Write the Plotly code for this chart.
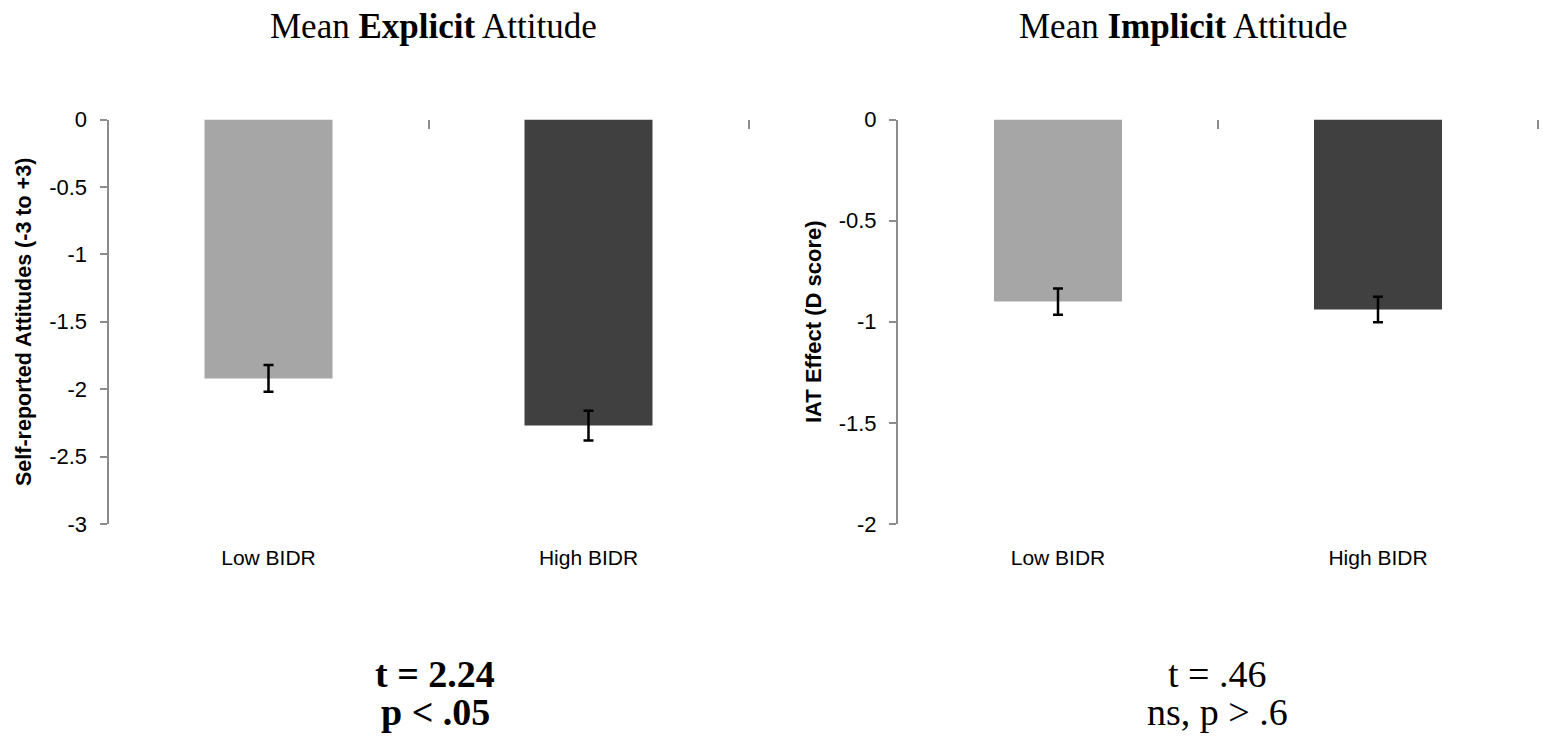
import plotly.graph_objects as go

# ---- data ----
categories = ["Low BIDR", "High BIDR"]
explicit_means = [-1.92, -2.27]
explicit_err = [0.10, 0.11]
implicit_means = [-0.90, -0.94]
implicit_err = [0.065, 0.063]
bar_colors = ["#a6a6a6", "#404040"]
explicit_ticks = [0, -0.5, -1, -1.5, -2, -2.5, -3]
explicit_ticktext = ["0", "-0.5", "-1", "-1.5", "-2", "-2.5", "-3"]
implicit_ticks = [0, -0.5, -1, -1.5, -2]
implicit_ticktext = ["0", "-0.5", "-1", "-1.5", "-2"]
titles = ["Mean <b>Explicit</b> Attitude", "Mean <b>Implicit</b> Attitude"]
y_titles = ["Self-reported Attitudes (-3 to +3)", "IAT Effect (D score)"]
stats_left = ["<b>t = 2.24</b>", "<b>p < .05</b>"]
stats_right = ["t = .46", "ns, p > .6"]

W, H = 1543, 745
xpos = list(range(len(categories)))
boundaries = [i - 0.5 for i in range(len(categories) + 1)]
xrange_ = [-0.5, len(categories) - 0.5]

SANS = "Liberation Sans, Arial, sans-serif"
SERIF = "Liberation Serif, Times New Roman, serif"
AXGRAY = "#8c8c8c"

PLOT_W = 640.0          # pixel width of each panel
EXT = 4.0               # extra px on top-tick axes so the last boundary tick is not at the edge
ext_units = EXT * (xrange_[1] - xrange_[0]) / PLOT_W

fig = go.Figure()

for means, errs, xa, ya in [(explicit_means, explicit_err, "x", "y"),
                            (implicit_means, implicit_err, "x2", "y2")]:
    fig.add_trace(go.Bar(
        x=xpos, y=means, xaxis=xa, yaxis=ya, width=0.4,
        marker=dict(color=bar_colors, line=dict(width=0)),
        error_y=dict(type="data", array=errs, visible=True, color="black",
                     thickness=2.5, width=5),
        showlegend=False, hoverinfo="skip"))

# invisible traces to create the top tick axes' subplots
fig.add_trace(go.Scatter(x=[0], y=[0], xaxis="x3", yaxis="y", mode="markers",
                         marker=dict(opacity=0), showlegend=False, hoverinfo="skip"))
fig.add_trace(go.Scatter(x=[0], y=[0], xaxis="x4", yaxis="y2", mode="markers",
                         marker=dict(opacity=0), showlegend=False, hoverinfo="skip"))

ydom = [(745 - 524) / H, (745 - 119.5) / H]
x1_left, x1_right = 108.5, 108.5 + PLOT_W
x2_left, x2_right = 898.0, 898.0 + PLOT_W
xdom1 = [x1_left / W, x1_right / W]
xdom2 = [x2_left / W, x2_right / W]

def cat_axis(domain, anchor):
    return dict(domain=domain, anchor=anchor, range=xrange_,
                tickvals=xpos, ticktext=categories, showline=False, showgrid=False,
                zeroline=False, ticks="", ticklabelstandoff=19,
                tickfont=dict(family=SANS, size=21, color="black"), automargin=False,
                fixedrange=True)

def top_axis(domain, anchor):
    return dict(domain=[domain[0], domain[1] + EXT / W], anchor=anchor, side="top",
                range=[xrange_[0], xrange_[1] + ext_units], tickvals=boundaries,
                ticks="inside", ticklen=9, tickwidth=2, tickcolor=AXGRAY,
                showticklabels=False, showline=False, showgrid=False, zeroline=False,
                automargin=False)

def val_axis(domain, anchor, rng, tv, tt):
    return dict(domain=domain, anchor=anchor, range=rng, tickvals=tv, ticktext=tt,
                showline=True, linecolor=AXGRAY, linewidth=2, ticks="outside",
                ticklen=7, tickwidth=2, tickcolor=AXGRAY, showgrid=False,
                zeroline=False, ticklabelstandoff=8,
                tickfont=dict(family=SANS, size=22, color="black"), automargin=False)

fig.update_layout(
    width=W, height=H, margin=dict(l=0, r=0, t=0, b=0),
    paper_bgcolor="white", plot_bgcolor="rgba(0,0,0,0)", template="none",
    xaxis=cat_axis(xdom1, "y"),
    xaxis2=cat_axis(xdom2, "y2"),
    xaxis3=top_axis(xdom1, "y"),
    xaxis4=top_axis(xdom2, "y2"),
    yaxis=val_axis(ydom, "x", [-3, 0], explicit_ticks, explicit_ticktext),
    yaxis2=val_axis(ydom, "x2", [-2, 0], implicit_ticks, implicit_ticktext),
)

ann = []
# panel titles
for txt, cx in zip(titles, [433, 1183]):
    ann.append(dict(text=txt, x=cx / W, y=1 - 26 / H, xref="paper", yref="paper",
                    xanchor="center", yanchor="middle", showarrow=False,
                    font=dict(family=SERIF, size=35, color="black")))
# y titles
for txt, cx, fs in zip(y_titles, [24, 813], [21.5, 22]):
    ann.append(dict(text="<b>" + txt + "</b>", x=cx / W, y=1 - 322 / H, xref="paper",
                    yref="paper", xanchor="center", yanchor="middle", textangle=-90,
                    showarrow=False, font=dict(family=SANS, size=fs, color="black")))
# stats
for lines, cx in [(stats_left, 435), (stats_right, 1217)]:
    for txt, cy in zip(lines, [674, 712]):
        ann.append(dict(text=txt, x=cx / W, y=1 - cy / H, xref="paper", yref="paper",
                        xanchor="center", yanchor="middle", showarrow=False,
                        font=dict(family=SERIF, size=38, color="black")))
fig.update_layout(annotations=ann)

fig.write_html("out.html", config={"displayModeBar": False})
